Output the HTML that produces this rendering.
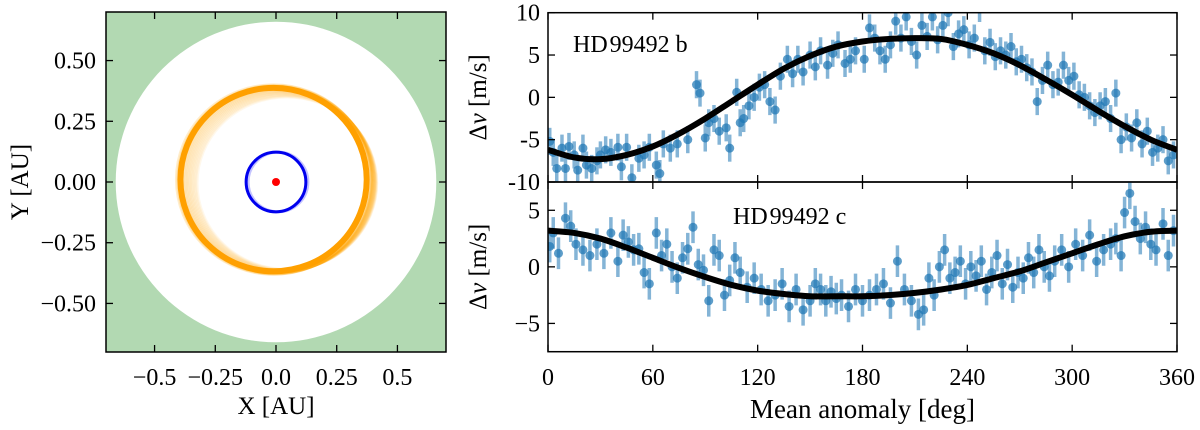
<!DOCTYPE html>
<html><head><meta charset="utf-8">
<style>
html,body{margin:0;padding:0;background:#fff;}
svg{display:block;}
svg text{font-family:"Liberation Serif","DejaVu Serif",serif;}
</style></head>
<body>
<svg id="fig" width="1200" height="430" viewBox="0 0 1200 430" xmlns="http://www.w3.org/2000/svg" font-family="Liberation Serif, DejaVu Serif, serif">
  <g id="left"></g>
  <g id="right"></g>
</svg>
<script>
// ---------- Data ----------
const orbitTicks = [-0.5, -0.25, 0.0, 0.25, 0.5];
const orbitTickLabelsX = ["-0.5", "-0.25", "0.0", "0.25", "0.5"];
const orbitTickLabelsY = ["-0.50", "-0.25", "0.00", "0.25", "0.50"];
const habitableRadius = 0.66;
const planetCOrbit = [-0.01, 0.01, 0.40, 0.39]; // cx, cy, a, b (AU)
const planetBOrbit = [0.0, 0.0, 0.123, 0.123];

const phaseTicks = [0, 60, 120, 180, 240, 300, 360];
const bTicks = [-10, -5, 0, 5, 10];
const bTickLabels = ["-10", "-5", "0", "5", "10"];
const cTicks = [-5, 0, 5];
const cTickLabels = ["\u22125", "0", "5"];

const modelPhase = [0,15,30,45,60,75,90,105,120,135,150,165,180,195,210,225,240,255,270,285,300,315,330,345,360];
const modelB = [-6.2,-7.1,-7.3,-6.8,-5.8,-4.3,-2.5,-0.5,1.5,3.4,4.9,6.0,6.6,6.9,7.0,6.9,6.2,5.2,3.8,2.1,0.3,-1.6,-3.4,-5.0,-6.2];
const modelC = [3.2,3.0,2.5,1.7,0.8,-0.1,-0.9,-1.6,-2.1,-2.4,-2.6,-2.6,-2.6,-2.5,-2.3,-2.0,-1.6,-1.0,-0.4,0.4,1.2,2.0,2.7,3.1,3.2];

const bPhase = [1,3,5,8,10,12,15,17,20,22,25,28,30,33,36,40,42,45,48,52,55,58,62,64,66,70,74,80,85,87,90,92,95,98,102,104,108,110,112,115,118,121,124,127,130,133,137,140,143,146,150,153,156,160,163,166,170,173,176,178,181,184,187,190,193,196,199,202,205,208,211,214,217,220,223,226,229,232,235,238,241,244,247,250,253,256,259,262,265,268,271,274,277,280,283,286,289,292,295,298,301,304,307,310,313,316,319,322,325,328,331,334,337,340,343,346,349,352,355,358];
const bVel = [-5.2,-6.5,-8.4,-6.0,-8.4,-5.8,-6.8,-8.6,-6.0,-8.0,-8.4,-7.5,-6.8,-6.2,-6.5,-5.9,-8.2,-5.9,-9.5,-7.2,-6.8,-5.9,-8.0,-9.0,-5.5,-6.0,-5.5,-5.0,1.5,0.5,-4.8,-3.0,-2.5,-4.0,-3.6,-6.0,0.6,-3.0,-2.5,-1.0,0.0,1.2,1.5,-0.5,-1.5,2.5,4.5,2.8,4.5,3.0,5.0,3.6,5.5,3.8,5.2,6.2,4.0,4.5,5.5,11.5,4.5,8.2,7.0,5.5,4.5,6.2,9.0,7.0,9.5,6.6,5.0,8.5,7.2,9.5,6.8,8.5,10.0,6.0,7.5,8.0,6.2,7.0,10.5,5.5,6.5,4.8,5.5,5.0,6.0,4.2,4.5,3.5,3.0,-0.5,2.0,3.8,1.5,1.8,3.8,2.0,2.5,0.3,0.0,-1.0,-1.8,-1.0,-0.5,-2.5,0.5,-5.0,-3.5,-4.8,-3.0,-5.5,-4.0,-6.5,-6.0,-5.0,-7.5,-6.8];
const cPhase = [1,3,6,10,13,16,20,24,28,32,36,40,43,46,49,52,55,58,62,65,68,71,74,77,80,83,86,89,92,95,98,101,104,107,110,114,118,122,126,130,134,138,142,146,150,153,156,159,162,165,168,172,176,180,184,188,192,196,200,204,208,212,215,218,221,224,227,230,233,236,239,242,245,248,251,254,257,260,263,266,269,272,275,278,281,284,287,290,294,298,302,306,310,314,318,322,325,328,330,333,336,339,342,345,348,352,355,358];
const cVel = [1.8,3.0,1.2,4.3,3.6,2.0,1.5,1.0,2.0,1.2,3.0,0.5,2.8,2.2,1.5,1.6,-0.5,-1.5,3.0,1.0,2.0,0.0,-1.0,0.8,1.6,3.5,0.2,-0.3,-3.0,1.5,1.0,-2.5,-1.2,0.8,-0.5,-1.8,-1.0,-2.0,-3.0,-2.5,-1.5,-3.5,-2.0,-3.8,-3.0,-1.5,-2.0,-3.0,-2.2,-2.8,-2.5,-3.5,-2.0,-3.0,-2.5,-2.0,-1.5,-3.2,0.5,-2.0,-3.0,-4.2,-3.8,-1.0,-2.5,0.0,1.5,-1.0,-0.5,0.5,-1.5,0.0,-0.8,0.5,-2.0,-0.5,1.0,-1.5,0.2,-1.8,-0.5,-1.0,0.8,-0.5,1.5,0.0,-0.8,0.5,1.5,0.0,2.0,1.0,2.8,0.5,1.5,2.0,2.5,1.0,4.8,6.5,4.0,2.5,3.5,2.0,1.5,3.8,1.0,3.2];

// ---------- Helpers ----------
const NS = "http://www.w3.org/2000/svg";
const FONT = "Liberation Serif, DejaVu Serif, serif";
function mk(parent, tag, attrs, text) {
  const e = document.createElementNS(NS, tag);
  for (const k in attrs) e.setAttribute(k, attrs[k]);
  if (tag === 'text') e.setAttribute('font-family', FONT);
  if (text !== undefined) e.textContent = text;
  parent.appendChild(e);
  return e;
}

// ---------- Left panel ----------
const L = document.getElementById('left');
const lx0 = 106, lx1 = 446, ly0 = 12, ly1 = 352, lr = 0.70;
const ox = v => lx0 + (v + lr) / (2 * lr) * (lx1 - lx0);
const oy = v => ly1 - (v + lr) / (2 * lr) * (ly1 - ly0);
const pxPerAU = (lx1 - lx0) / (2 * lr);

let bg = mk(L, 'rect', {x: lx0, y: ly0, width: lx1 - lx0, height: ly1 - ly0, fill: '#b2d9b2'});


let hz = mk(L, 'circle', {cx: ox(0), cy: oy(0), r: habitableRadius * pxPerAU, fill: '#fff'});



const cg = mk(L, 'g', {});


for (let i = 0; i < 16; i++) {
  const f = i / 15;
  mk(cg, 'ellipse', {cx: ox(planetCOrbit[0] + 0.055 * f), cy: oy(planetCOrbit[1] - 0.015 * f),
    rx: (planetCOrbit[2] - 0.03 * f) * pxPerAU, ry: (planetCOrbit[3] - 0.035 * f) * pxPerAU,
    fill: 'none', stroke: '#ffa500', 'stroke-opacity': 0.08 + 0.12 * (1 - f), 'stroke-width': 3});
}
let co = mk(L, 'ellipse', {cx: ox(planetCOrbit[0]), cy: oy(planetCOrbit[1]), rx: planetCOrbit[2] * pxPerAU - 4, ry: planetCOrbit[3] * pxPerAU - 3, fill: 'none', stroke: '#ffa000', 'stroke-width': 6});


mk(L, 'circle', {cx: ox(0) + 2, cy: oy(0), r: planetBOrbit[2] * pxPerAU, fill: 'none', stroke: '#6b6bff', 'stroke-width': 3, 'stroke-opacity': 0.4});
let bo = mk(L, 'circle', {cx: ox(planetBOrbit[0]), cy: oy(planetBOrbit[1]), r: planetBOrbit[2] * pxPerAU, fill: 'none', stroke: '#0000ee', 'stroke-width': 3});


let star = mk(L, 'circle', {cx: ox(0), cy: oy(0), r: 4, fill: '#ff0000'});



let lf = mk(L, 'rect', {x: lx0, y: ly0, width: lx1 - lx0, height: ly1 - ly0, fill: 'none', stroke: '#000', 'stroke-width': 1.5});


orbitTicks.forEach((t, i) => {
  const x = ox(t), y = oy(t);
  mk(L, 'line', {x1: x, x2: x, y1: ly1, y2: ly1 - 7, stroke: '#000', 'stroke-width': 1.3});
  mk(L, 'line', {x1: x, x2: x, y1: ly0, y2: ly0 + 7, stroke: '#000', 'stroke-width': 1.3});
  mk(L, 'line', {x1: lx0, x2: lx0 + 7, y1: y, y2: y, stroke: '#000', 'stroke-width': 1.3});
  mk(L, 'line', {x1: lx1, x2: lx1 - 7, y1: y, y2: y, stroke: '#000', 'stroke-width': 1.3});
  let tx = mk(L, 'text', {x: x, y: ly1 + 33, 'font-size': 24, 'text-anchor': 'middle'}, orbitTickLabelsX[i].replace('-', '\u2212'));
  
  
  let ty = mk(L, 'text', {x: lx0 - 10, y: y + 8, 'font-size': 24, 'text-anchor': 'end'}, orbitTickLabelsY[i].replace('-', '\u2212'));
  
  
});
let xl = mk(L, 'text', {x: ox(0), y: 414, 'font-size': 25, 'text-anchor': 'middle'}, 'X [AU]');


let yl = mk(L, 'text', {x: 0, y: 0, 'font-size': 25, 'text-anchor': 'middle', transform: `translate(28,${oy(0)}) rotate(-90)`}, 'Y [AU]');



// ---------- Right panels ----------
const R = document.getElementById('right');
const rx0 = 548, rx1 = 1177;
const px = p => rx0 + p / 360 * (rx1 - rx0);

function panel(name, top, bottom, ymin, ymax, ticks, labels, model, ph, vel, label, labelX, labelY, eb) {
  const g = mk(R, 'g', {});
  
  
  const sy = v => bottom - (v - ymin) / (ymax - ymin) * (bottom - top);
  const cid = name + '-clip';
  const cp = mk(g, 'clipPath', {id: cid});
  mk(cp, 'rect', {x: rx0, y: top, width: rx1 - rx0, height: bottom - top});
  const inner = mk(g, 'g', {'clip-path': `url(#${cid})`});
  const pts = mk(inner, 'g', {});
  
  
  for (let i = 0; i < ph.length; i++) {
    const x = px(ph[i]), y = sy(vel[i]);
    mk(pts, 'line', {x1: x, x2: x, y1: sy(vel[i] - eb), y2: sy(vel[i] + eb), stroke: '#1f77b4', 'stroke-opacity': 0.55, 'stroke-width': 3.5});
    mk(pts, 'circle', {cx: x, cy: y, r: 4.5, fill: '#1f77b4', 'fill-opacity': 0.72});
  }
  const P = model.map((v, i) => [px(modelPhase[i]), sy(v)]);
  let d = `M${P[0][0]},${P[0][1]}`;
  for (let i = 0; i < P.length - 1; i++) {
    const p0 = P[Math.max(0, i - 1)], p1 = P[i], p2 = P[i + 1], p3 = P[Math.min(P.length - 1, i + 2)];
    d += ` C${p1[0] + (p2[0] - p0[0]) / 6},${p1[1] + (p2[1] - p0[1]) / 6} ${p2[0] - (p3[0] - p1[0]) / 6},${p2[1] - (p3[1] - p1[1]) / 6} ${p2[0]},${p2[1]}`;
  }
  const m = mk(inner, 'path', {d: d, fill: 'none', stroke: '#000', 'stroke-width': 6});
  
  
  mk(g, 'rect', {x: rx0, y: top, width: rx1 - rx0, height: bottom - top, fill: 'none', stroke: '#000', 'stroke-width': 1.5});
  phaseTicks.forEach(p => {
    mk(g, 'line', {x1: px(p), x2: px(p), y1: bottom, y2: bottom - 7, stroke: '#000', 'stroke-width': 1.3});
    mk(g, 'line', {x1: px(p), x2: px(p), y1: top, y2: top + 7, stroke: '#000', 'stroke-width': 1.3});
  });
  ticks.forEach((t, i) => {
    const y = sy(t);
    mk(g, 'line', {x1: rx0, x2: rx0 + 7, y1: y, y2: y, stroke: '#000', 'stroke-width': 1.3});
    mk(g, 'line', {x1: rx1, x2: rx1 - 7, y1: y, y2: y, stroke: '#000', 'stroke-width': 1.3});
    const tl = mk(g, 'text', {x: rx0 - 8, y: y + 8, 'font-size': 24, 'text-anchor': 'end'}, labels[i]);
    
    
  });
  const t = mk(g, 'text', {x: labelX, y: labelY, 'font-size': 24}, label);
  
  
  const yt = mk(g, 'text', {x: 0, y: 0, 'font-size': 25, 'text-anchor': 'middle', transform: `translate(486,${(top + bottom) / 2}) rotate(-90)`});
  
  
  mk(yt, 'tspan', {}, '\u0394');
  mk(yt, 'tspan', {'font-style': 'italic'}, 'v');
  mk(yt, 'tspan', {}, ' [m/s]');
}
panel('planet-b-panel', 12.7, 182, -10, 10, bTicks, bTickLabels, modelB, bPhase, bVel, 'HD\u200a99492 b', 573, 52, 1.6);
panel('planet-c-panel', 182, 351.7, -7.5, 7.5, cTicks, cTickLabels, modelC, cPhase, cVel, 'HD\u200a99492 c', 733, 224, 1.4);

phaseTicks.forEach(p => {
  const t = mk(R, 'text', {x: px(p), y: 385, 'font-size': 24, 'text-anchor': 'middle'}, String(p));
  
  
});
const xt = mk(R, 'text', {x: (rx0 + rx1) / 2, y: 418, 'font-size': 27, 'text-anchor': 'middle'}, 'Mean anomaly [deg]');


</script>
</body></html>
